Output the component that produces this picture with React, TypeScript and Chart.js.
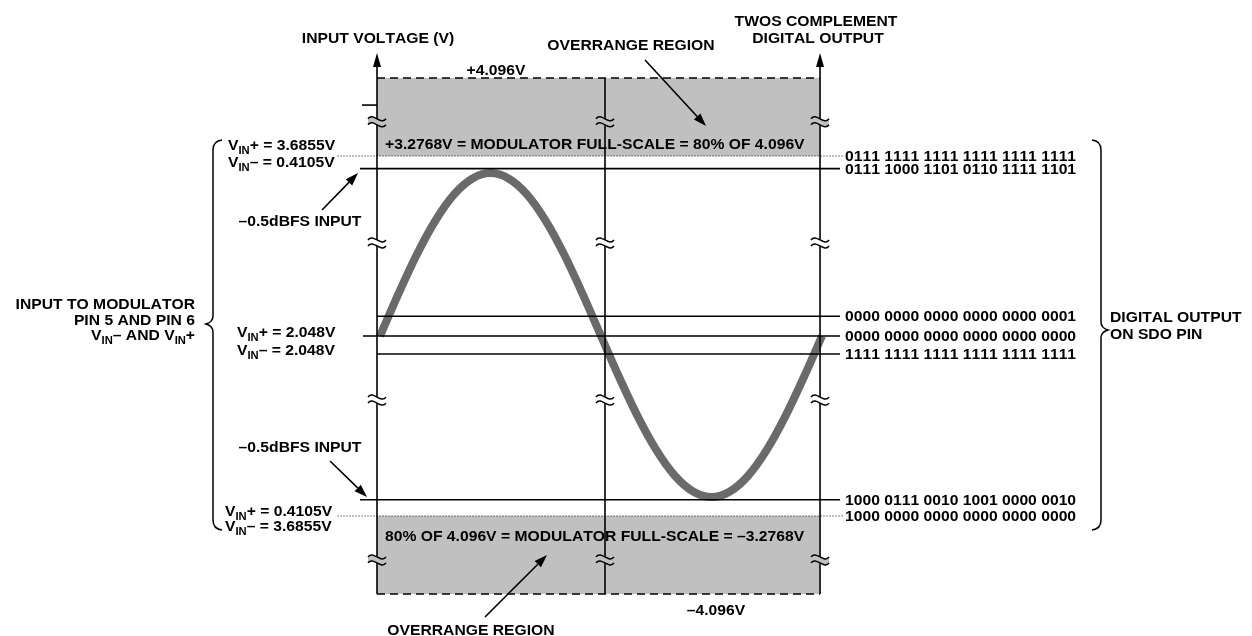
import { useEffect, useRef } from "react";
import { Chart, registerables } from "chart.js";

Chart.register(...registerables);

// ---------------- data ----------------
// input sine: phase in degrees, level as a fraction of the modulator full-scale
const phaseDeg = [0, 15, 30, 45, 60, 75, 90, 105, 120, 135, 150, 165, 180, 195, 210, 225, 240, 255, 270, 285, 300, 315, 330, 345, 360];
const inputLevel = [0, 0.234, 0.453, 0.64, 0.784, 0.874, 0.905, 0.874, 0.784, 0.64, 0.453, 0.234, 0, -0.232, -0.448, -0.633, -0.775, -0.864, -0.895, -0.864, -0.775, -0.633, -0.448, -0.232, 0];

const overrangeLimits = [1.433, -1.433];
const fullScaleLevels = [1.0, -1.0];
const peakLevels = [0.93, -0.91];
const lsbLevels = [0.11, 0, -0.1];
const breakLevels = [1.19, 0.517, -0.356, -1.244];
const axisTopLevel = 1.572;
const scaleTickLevels = [1.283];

const codeLevels = [1.0, 0.93, 0.11, 0, -0.1, -0.91, -1.0];
const codeLabels = [
  "0111 1111 1111 1111 1111 1111",
  "0111 1000 1101 0110 1111 1101",
  "0000 0000 0000 0000 0000 0001",
  "0000 0000 0000 0000 0000 0000",
  "1111 1111 1111 1111 1111 1111",
  "1000 0111 0010 1001 0000 0010",
  "1000 0000 0000 0000 0000 0000",
];

// ---------------- layout (phase-axis positions) ----------------
const X_MIN = -309.5;
const X_MAX = 710.23;
const Y_MIN = -1.6667;
const Y_MAX = 1.8667;
const axisPhases = [-2.44, 183.26, 358.4];
const LINE_END = 374.66;
const DOT_END = 377.1;
const DOT_START = -34.6;
const PEAK_START = -16.3;
const ZERO_START = -13.85;
const TICK_START = -14.7;

const FONT = '"Liberation Sans", Arial, Helvetica, sans-serif';
const GRAY = "#c0c0c0";

function drawText(ctx: CanvasRenderingContext2D, str: string, x: number, y: number, align: string = "left", size = 14, stretch = 1.12) {
  const parts: { t: string; sub: boolean }[] = [];
  const re = /_\{([^}]*)\}/g;
  let last = 0;
  let m: RegExpExecArray | null;
  while ((m = re.exec(str))) {
    if (m.index > last) parts.push({ t: str.slice(last, m.index), sub: false });
    parts.push({ t: m[1], sub: true });
    last = re.lastIndex;
  }
  if (last < str.length) parts.push({ t: str.slice(last), sub: false });
  const subSize = Math.round(size * 0.74);
  (ctx as any).fontKerning = "none";
  const ws: number[] = [];
  let w = 0;
  for (const p of parts) {
    ctx.font = `bold ${p.sub ? subSize : size}px ${FONT}`;
    const mw = ctx.measureText(p.t).width;
    ws.push(mw);
    w += mw;
  }
  const total = w * stretch;
  const sx = align === "left" ? x : align === "right" ? x - total : x - total / 2;
  ctx.save();
  (ctx as any).fontKerning = "none";
  ctx.translate(sx, y + size * 0.36);
  ctx.scale(stretch, 1);
  ctx.fillStyle = "#000";
  ctx.textAlign = "left";
  ctx.textBaseline = "alphabetic";
  let cx = 0;
  parts.forEach((p, i) => {
    ctx.font = `bold ${p.sub ? subSize : size}px ${FONT}`;
    ctx.fillText(p.t, cx, p.sub ? size * 0.3 : 0);
    cx += ws[i];
  });
  ctx.restore();
}

function drawArrow(ctx: CanvasRenderingContext2D, x1: number, y1: number, x2: number, y2: number) {
  const ang = Math.atan2(y2 - y1, x2 - x1);
  const len = 13;
  const hw = 4.5;
  const bx = x2 - Math.cos(ang) * len;
  const by = y2 - Math.sin(ang) * len;
  ctx.save();
  ctx.strokeStyle = "#000";
  ctx.fillStyle = "#000";
  ctx.lineWidth = 1.6;
  ctx.beginPath();
  ctx.moveTo(x1, y1);
  ctx.lineTo(bx, by);
  ctx.stroke();
  ctx.beginPath();
  ctx.moveTo(x2, y2);
  ctx.lineTo(bx + Math.sin(ang) * hw, by - Math.cos(ang) * hw);
  ctx.lineTo(bx - Math.sin(ang) * hw, by + Math.cos(ang) * hw);
  ctx.closePath();
  ctx.fill();
  ctx.restore();
}

function drawBreak(ctx: CanvasRenderingContext2D, x: number, y: number, bg: string) {
  const up = (yy: number) => {
    ctx.moveTo(x - 9, yy);
    ctx.bezierCurveTo(x - 4, yy - 7, x + 4, yy + 7, x + 9, yy);
  };
  ctx.save();
  ctx.fillStyle = bg;
  ctx.beginPath();
  ctx.moveTo(x - 9, y - 3);
  ctx.bezierCurveTo(x - 4, y - 10, x + 4, y + 4, x + 9, y - 3);
  ctx.lineTo(x + 9, y + 3);
  ctx.bezierCurveTo(x + 4, y + 10, x - 4, y - 4, x - 9, y + 3);
  ctx.closePath();
  ctx.fill();
  ctx.strokeStyle = "#000";
  ctx.lineWidth = 1.5;
  ctx.beginPath();
  up(y - 3);
  ctx.stroke();
  ctx.beginPath();
  up(y + 3);
  ctx.stroke();
  ctx.restore();
}

function drawBraces(ctx: CanvasRenderingContext2D) {
  ctx.save();
  ctx.strokeStyle = "#000";
  ctx.lineWidth = 1.5;
  ctx.beginPath();
  ctx.moveTo(222, 140);
  ctx.quadraticCurveTo(213, 141, 213, 150);
  ctx.lineTo(213, 316);
  ctx.quadraticCurveTo(213, 322, 206, 324);
  ctx.quadraticCurveTo(213, 326, 213, 332);
  ctx.lineTo(213, 520);
  ctx.quadraticCurveTo(213, 529, 222, 530);
  ctx.stroke();
  ctx.beginPath();
  ctx.moveTo(1092, 140);
  ctx.quadraticCurveTo(1101, 141, 1101, 150);
  ctx.lineTo(1101, 322);
  ctx.quadraticCurveTo(1101, 328, 1108, 330);
  ctx.quadraticCurveTo(1101, 332, 1101, 338);
  ctx.lineTo(1101, 520);
  ctx.quadraticCurveTo(1101, 529, 1092, 530);
  ctx.stroke();
  ctx.restore();
}

const diagramPlugin = {
  id: "diagramDecor",
  afterDatasetsDraw(chart: any) {
    const ctx: CanvasRenderingContext2D = chart.ctx;
    const xs = chart.scales.x;
    const ys = chart.scales.y;
    const px = (v: number) => xs.getPixelForValue(v);
    const py = (v: number) => ys.getPixelForValue(v);

    // break marks on the three verticals
    for (const lv of breakLevels) {
      for (const ph of axisPhases) {
        drawBreak(ctx, px(ph), py(lv), Math.abs(lv) > 1 ? GRAY : "#ffffff");
      }
    }
    // arrowheads on the left and right axes
    ctx.save();
    ctx.fillStyle = "#000";
    for (const ph of [axisPhases[0], axisPhases[2]]) {
      const x = px(ph);
      const y = py(axisTopLevel);
      ctx.beginPath();
      ctx.moveTo(x, y);
      ctx.lineTo(x - 4, y + 14);
      ctx.lineTo(x + 4, y + 14);
      ctx.closePath();
      ctx.fill();
    }
    ctx.restore();

    drawBraces(ctx);

    // annotation arrows
    drawArrow(ctx, 645, 60, 706, 126);
    drawArrow(ctx, 322, 210, 358, 173);
    drawArrow(ctx, 330, 461, 367, 497);
    drawArrow(ctx, 485, 617, 547, 555);

    // texts
    drawText(ctx, "INPUT VOLTAGE (V)", 378, 38, "center");
    drawText(ctx, "OVERRANGE REGION", 631, 45, "center");
    drawText(ctx, "TWOS COMPLEMENT", 816, 21, "center");
    drawText(ctx, "DIGITAL OUTPUT", 818, 38, "center");
    drawText(ctx, "+4.096V", 496, 70, "center");
    drawText(ctx, "+3.2768V = MODULATOR FULL-SCALE = 80% OF 4.096V", 385, 144, "left");
    drawText(ctx, "V_{IN}+ = 3.6855V", 228, 145, "left");
    drawText(ctx, "V_{IN}– = 0.4105V", 228, 162, "left");
    drawText(ctx, "–0.5dBFS INPUT", 300, 221, "center");
    drawText(ctx, "INPUT TO MODULATOR", 195, 304, "right");
    drawText(ctx, "PIN 5 AND PIN 6", 195, 320, "right");
    drawText(ctx, "V_{IN}– AND V_{IN}+", 195, 335, "right");
    drawText(ctx, "V_{IN}+ = 2.048V", 237, 332, "left");
    drawText(ctx, "V_{IN}– = 2.048V", 237, 350, "left");
    drawText(ctx, "–0.5dBFS INPUT", 300, 447, "center");
    drawText(ctx, "V_{IN}+ = 0.4105V", 225, 511, "left");
    drawText(ctx, "V_{IN}– = 3.6855V", 225, 526, "left");
    drawText(ctx, "80% OF 4.096V = MODULATOR FULL-SCALE = –3.2768V", 385, 536, "left");
    drawText(ctx, "–4.096V", 716, 610, "center");
    drawText(ctx, "OVERRANGE REGION", 471, 630, "center");
    drawText(ctx, "DIGITAL OUTPUT", 1110, 317, "left");
    drawText(ctx, "ON SDO PIN", 1110, 334, "left");
    codeLabels.forEach((t, i) => drawText(ctx, t, 845, py(codeLevels[i]), "left"));
  },
};

function seg(x1: number, x2: number, y1: number, y2: number) {
  return [
    { x: x1, y: y1 },
    { x: x2, y: y2 },
  ];
}

export default function App() {
  const ref = useRef<HTMLCanvasElement | null>(null);
  useEffect(() => {
    if (!ref.current) return;
    const solid = { borderColor: "#000", borderWidth: 1.6, pointRadius: 0, fill: false, order: 1 };
    const datasets: any[] = [];
    // input sine
    datasets.push({
      data: phaseDeg.map((p, i) => ({ x: p, y: inputLevel[i] })),
      borderColor: "#6a6a6a",
      borderWidth: 8,
      pointRadius: 0,
      cubicInterpolationMode: "monotone",
      fill: false,
      order: 2,
    });
    // overrange regions
    overrangeLimits.forEach((lim, i) => {
      datasets.push({
        data: seg(axisPhases[0], axisPhases[2], lim, lim),
        borderColor: "#000",
        borderWidth: 1.6,
        borderDash: [8, 5],
        pointRadius: 0,
        fill: { value: fullScaleLevels[i] },
        backgroundColor: GRAY,
        order: 4,
      });
    });
    // full-scale dotted lines
    fullScaleLevels.forEach((lv) => {
      datasets.push({ ...solid, borderWidth: 1, borderDash: [1, 2], data: seg(DOT_START, DOT_END, lv, lv) });
    });
    // -0.5 dBFS peak lines
    peakLevels.forEach((lv) => {
      datasets.push({ ...solid, data: seg(PEAK_START, LINE_END, lv, lv) });
    });
    // LSB code lines
    lsbLevels.forEach((lv) => {
      datasets.push({ ...solid, data: seg(lv === 0 ? ZERO_START : axisPhases[0], LINE_END, lv, lv) });
    });
    // axis tick
    scaleTickLevels.forEach((lv) => {
      datasets.push({ ...solid, data: seg(TICK_START, axisPhases[0], lv, lv) });
    });
    // verticals
    axisPhases.forEach((ph, i) => {
      datasets.push({ ...solid, data: seg(ph, ph, overrangeLimits[1], i === 1 ? overrangeLimits[0] : axisTopLevel - 0.05) });
    });

    const chart = new Chart(ref.current, {
      type: "line",
      data: { datasets },
      options: {
        animation: false,
        responsive: false,
        maintainAspectRatio: false,
        events: [],
        layout: { padding: 0 },
        plugins: { legend: { display: false }, tooltip: { enabled: false }, title: { display: false } },
        scales: {
          x: { type: "linear", min: X_MIN, max: X_MAX, display: false },
          y: { type: "linear", min: Y_MIN, max: Y_MAX, display: false },
        },
      },
      plugins: [diagramPlugin],
    } as any);
    return () => chart.destroy();
  }, []);

  return (
    <div style={{ position: "fixed", left: 0, top: 0, width: 1252, height: 636, background: "#fff" }}>
      <canvas ref={ref} width={1252} height={636} style={{ display: "block" }} />
    </div>
  );
}
